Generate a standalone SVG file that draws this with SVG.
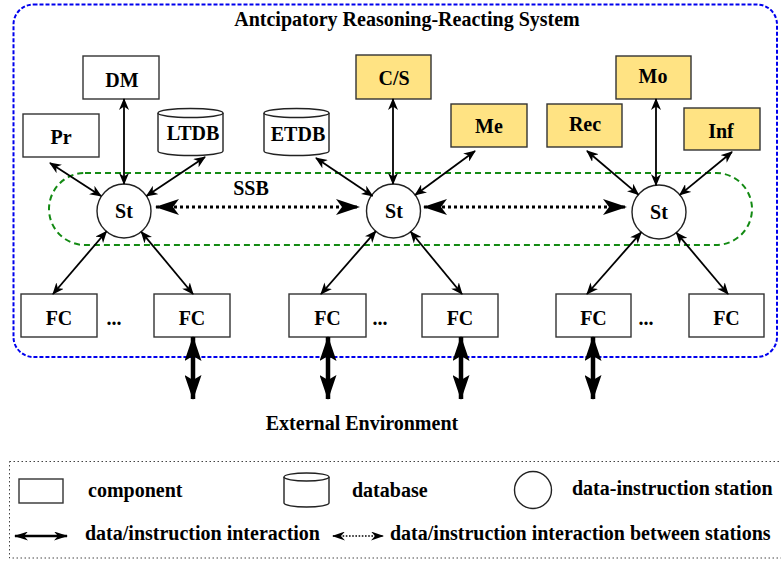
<svg xmlns="http://www.w3.org/2000/svg" width="781" height="563" viewBox="0 0 781 563">
  <style>
    text { font-family: "Liberation Serif", "Times New Roman", serif; font-weight: bold; font-size: 20px; fill: #000; text-anchor: middle; }
    .lt { text-anchor: start; }
    .box { fill: #fff; stroke: #333; stroke-width: 1.4; }
    .ybox { fill: #ffe383; stroke: #333; stroke-width: 1.4; }
    .db { fill: #fff; stroke: #222; stroke-width: 1.4; }
    .st { fill: #fff; stroke: #222; stroke-width: 1.4; }
    .thin { stroke: #000; stroke-width: 1.8; fill: none; marker-start: url(#ah); marker-end: url(#ah); }
    .dot { stroke: #000; stroke-width: 3; stroke-dasharray: 3 3; fill: none; marker-start: url(#dh); marker-end: url(#dh); }
    .thick { stroke: #000; stroke-width: 4.5; fill: none; marker-start: url(#th); marker-end: url(#th); }
  </style>
  <defs>
    <marker id="ah" markerUnits="userSpaceOnUse" markerWidth="12" markerHeight="10" viewBox="0 0 12 10" refX="11" refY="5" orient="auto-start-reverse">
      <path d="M0,0 L12,5 L0,10 L3.5,5 Z" fill="#000"/>
    </marker>
    <marker id="dh" markerUnits="userSpaceOnUse" markerWidth="24" markerHeight="16" viewBox="0 0 24 16" refX="23" refY="8" orient="auto-start-reverse">
      <path d="M0,0 L24,8 L0,16 L6,8 Z" fill="#000"/>
    </marker>
    <marker id="th" markerUnits="userSpaceOnUse" markerWidth="25" markerHeight="17" viewBox="0 0 25 17" refX="24" refY="8.5" orient="auto-start-reverse">
      <path d="M0,0 L25,8.5 L0,17 L5,8.5 Z" fill="#000"/>
    </marker>
    <marker id="lh" markerUnits="userSpaceOnUse" markerWidth="14" markerHeight="9" viewBox="0 0 14 9" refX="13" refY="4.5" orient="auto-start-reverse">
      <path d="M0,0 L14,4.5 L0,9 L4,4.5 Z" fill="#000"/>
    </marker>
    <marker id="lhs" markerUnits="userSpaceOnUse" markerWidth="13" markerHeight="9" viewBox="0 0 13 9" refX="12" refY="4.5" orient="auto-start-reverse">
      <path d="M0,0 L13,4.5 L0,9 L4,4.5 Z" fill="#000"/>
    </marker>
  </defs>

  <rect width="781" height="563" fill="#fff"/>

  <!-- system boundary -->
  <rect id="system" x="13.5" y="4.5" width="763.5" height="352.5" rx="20" fill="none" stroke="#0000ee" stroke-width="2" stroke-dasharray="4 2"/>
  <text x="407" y="26">Antcipatory Reasoning-Reacting System</text>

  <!-- station bus -->
  <g id="ssb">
    <rect x="49" y="173" width="703" height="72" rx="36" fill="none" stroke="#138a13" stroke-width="2" stroke-dasharray="6 4"/>
    <text x="251" y="195">SSB</text>
  </g>

  <!-- components -->
  <g id="dm"><rect class="box" x="83" y="56" width="76" height="43"/><text x="122" y="87">DM</text></g>
  <g id="pr"><rect class="box" x="23" y="114" width="76" height="43"/><text x="61" y="144">Pr</text></g>
  <g id="ltdb">
    <path class="db" d="M158,113 A32.5,4.5 0 0 1 223,113 V151 A32.5,4.5 0 0 1 158,151 Z"/>
    <path class="db" fill="none" d="M158,113 A32.5,4.5 0 0 0 223,113"/>
    <text x="193" y="140">LTDB</text>
  </g>
  <g id="etdb">
    <path class="db" d="M264,113 A32.5,4.5 0 0 1 329,113 V151 A32.5,4.5 0 0 1 264,151 Z"/>
    <path class="db" fill="none" d="M264,113 A32.5,4.5 0 0 0 329,113"/>
    <text x="298" y="141">ETDB</text>
  </g>
  <g id="cs"><rect class="ybox" x="356" y="55" width="75" height="44"/><text x="394" y="85">C/S</text></g>
  <g id="me"><rect class="ybox" x="451" y="104" width="76" height="43"/><text x="489" y="133">Me</text></g>
  <g id="rec"><rect class="ybox" x="547" y="104" width="75" height="43"/><text x="585" y="131">Rec</text></g>
  <g id="mo"><rect class="ybox" x="616" y="56" width="75" height="43"/><text x="653" y="83">Mo</text></g>
  <g id="inf"><rect class="ybox" x="684" y="108" width="76" height="42"/><text x="721" y="138">Inf</text></g>

  <!-- stations -->
  <g id="st1"><circle class="st" cx="124" cy="211" r="27"/><text x="124" y="218">St</text></g>
  <g id="st2"><circle class="st" cx="393.5" cy="211" r="27"/><text x="394" y="218">St</text></g>
  <g id="st3"><circle class="st" cx="659" cy="212" r="27"/><text x="659" y="219">St</text></g>

  <!-- field components -->
  <g id="fc1"><rect class="box" x="21" y="294" width="76" height="43"/><text x="59" y="325">FC</text></g>
  <g id="fc2"><rect class="box" x="154" y="294" width="76" height="43"/><text x="192" y="325">FC</text></g>
  <g id="fc3"><rect class="box" x="289" y="294" width="77" height="43"/><text x="327.5" y="325">FC</text></g>
  <g id="fc4"><rect class="box" x="422" y="294" width="76" height="43"/><text x="460" y="325">FC</text></g>
  <g id="fc5"><rect class="box" x="556" y="294" width="75" height="43"/><text x="593.5" y="325">FC</text></g>
  <g id="fc6"><rect class="box" x="689" y="294" width="75" height="43"/><text x="726.5" y="325">FC</text></g>
  <text x="114" y="325">...</text>
  <text x="380" y="325">...</text>
  <text x="646" y="325">...</text>

  <text x="362" y="430">External Environment</text>

  <!-- connectors -->
  <g id="connectors">
    <line class="thin" x1="124" y1="99" x2="124" y2="184"/>
    <line class="thin" x1="50" y1="163" x2="101" y2="196"/>
    <line class="thin" x1="205" y1="157" x2="146.5" y2="196"/>
    <line class="thin" x1="53" y1="294" x2="106.4" y2="231.5"/>
    <line class="thin" x1="193" y1="294" x2="141.3" y2="231.8"/>

    <line class="thin" x1="316" y1="158" x2="372.6" y2="196"/>
    <line class="thin" x1="393" y1="99" x2="393" y2="184"/>
    <line class="thin" x1="475" y1="151" x2="415.2" y2="195"/>
    <line class="thin" x1="321" y1="294" x2="375.7" y2="231.3"/>
    <line class="thin" x1="462" y1="294" x2="410.7" y2="231.8"/>

    <line class="thin" x1="587" y1="151" x2="638.4" y2="194.6"/>
    <line class="thin" x1="656" y1="99" x2="656" y2="185.2"/>
    <line class="thin" x1="732" y1="152" x2="679.8" y2="194.9"/>
    <line class="thin" x1="587" y1="294" x2="641.2" y2="232.3"/>
    <line class="thin" x1="728" y1="294" x2="676.4" y2="232.7"/>

    <line class="dot" x1="156" y1="207" x2="359" y2="207"/>
    <line class="dot" x1="424" y1="207" x2="626" y2="207"/>

    <line class="thick" x1="193" y1="337" x2="193" y2="399"/>
    <line class="thick" x1="328" y1="337" x2="328" y2="399"/>
    <line class="thick" x1="461" y1="337" x2="461" y2="399"/>
    <line class="thick" x1="593" y1="337" x2="593" y2="399"/>
  </g>

  <!-- legend -->
  <g id="legend">
    <rect x="9.5" y="461.5" width="790" height="96.5" fill="none" stroke="#444" stroke-width="1" stroke-dasharray="1.5 2.5"/>
    <rect class="box" x="19" y="479" width="44" height="24"/>
    <text class="lt" x="88" y="497">component</text>
    <path class="db" d="M284,477 A22.5,4 0 0 1 329,477 V503 A22.5,4 0 0 1 284,503 Z"/>
    <path class="db" fill="none" d="M284,477 A22.5,4 0 0 0 329,477"/>
    <text class="lt" x="352" y="497">database</text>
    <circle class="st" cx="533" cy="490" r="18.5"/>
    <text class="lt" x="572" y="495">data-instruction station</text>
    <line x1="15" y1="536" x2="67" y2="536" stroke="#000" stroke-width="2.5" marker-start="url(#lh)" marker-end="url(#lh)"/>
    <text class="lt" x="85" y="540">data/instruction interaction</text>
    <line x1="333" y1="536" x2="383" y2="536" stroke="#000" stroke-width="1.6" stroke-dasharray="1.6 1.6" marker-start="url(#lhs)" marker-end="url(#lhs)"/>
    <text class="lt" x="390" y="540">data/instruction interaction between stations</text>
  </g>
</svg>
